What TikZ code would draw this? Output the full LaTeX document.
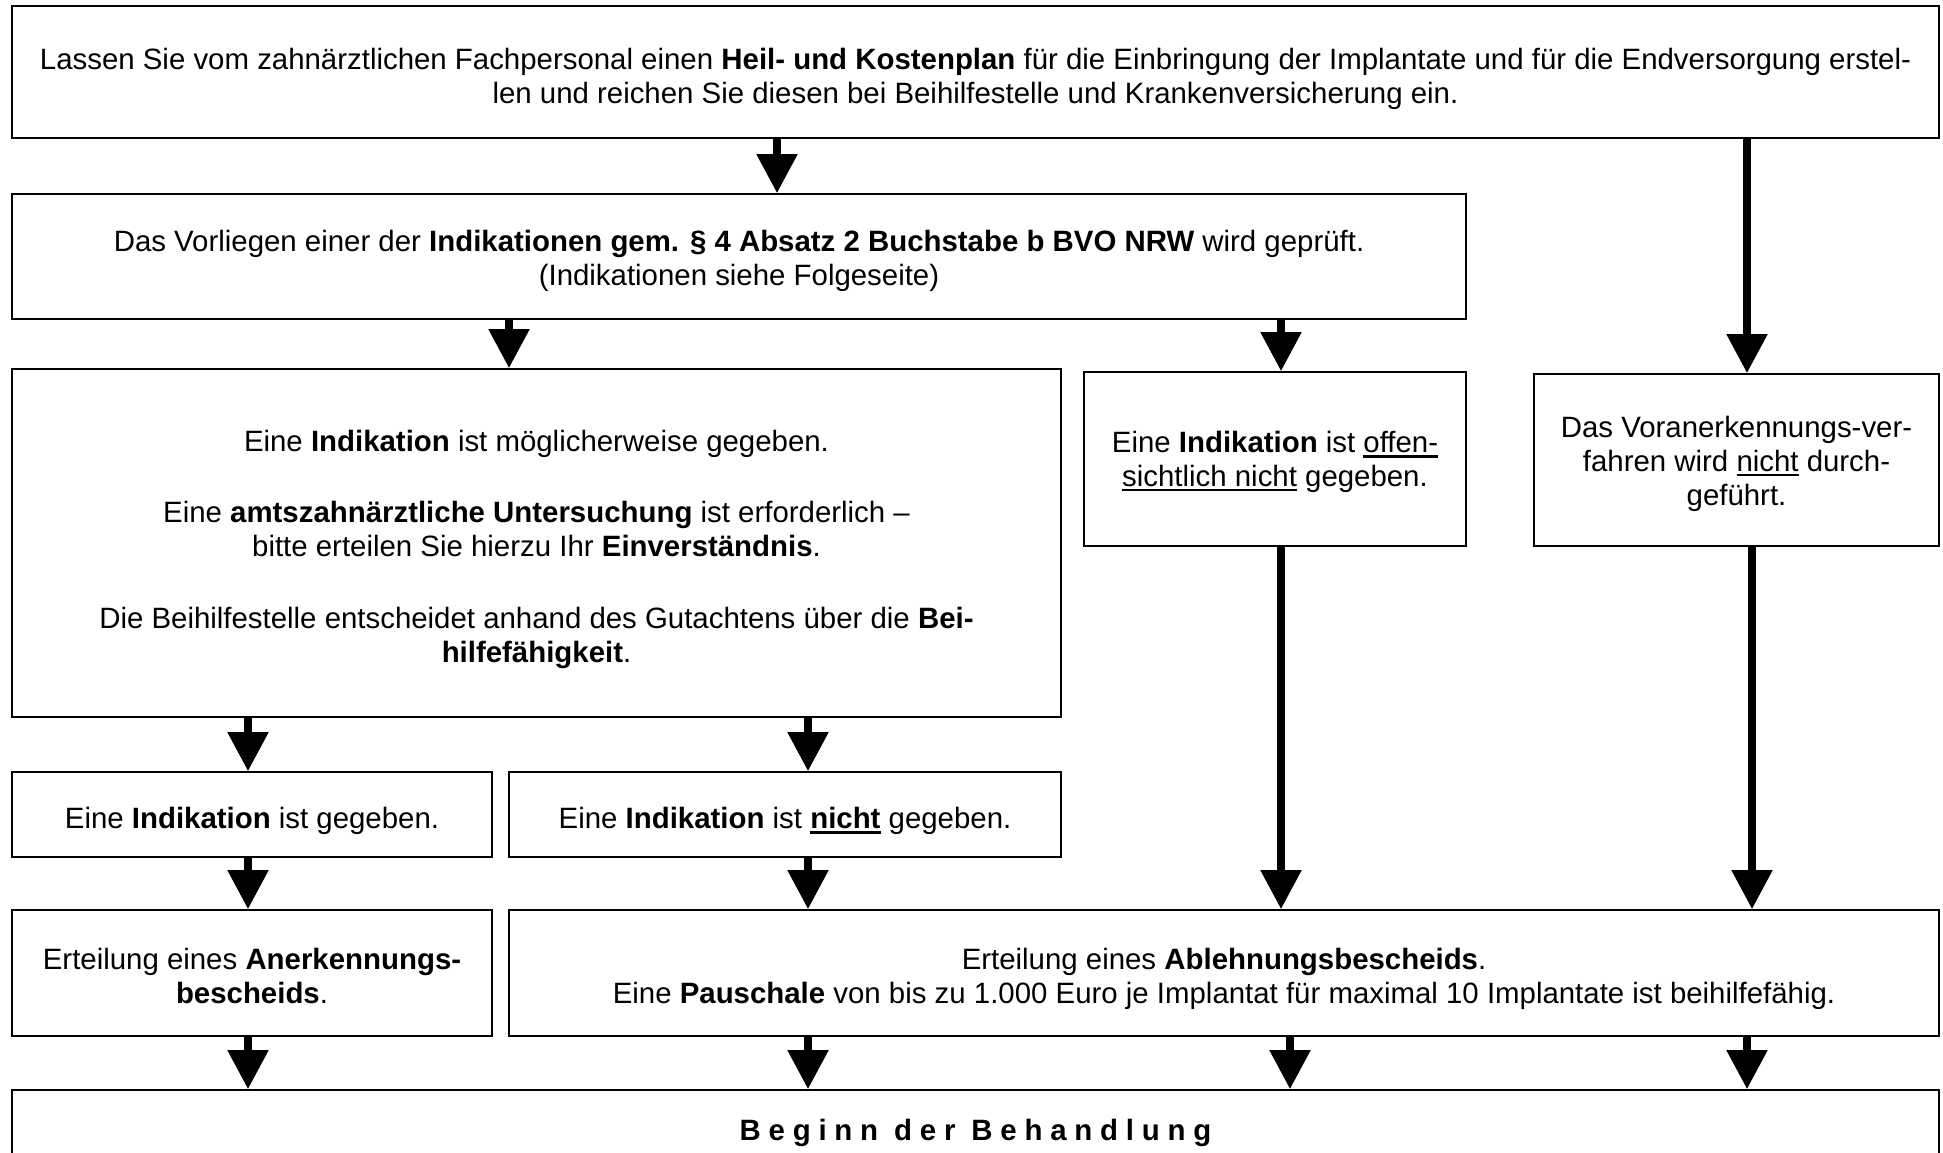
\documentclass[tikz,border=0pt]{standalone}
\usepackage{fontspec}
\setmainfont{Liberation Sans}
\usetikzlibrary{arrows.meta}
\newcommand{\unter}[1]{\leavevmode\setbox0=\hbox{#1}\rlap{\rule[-2.6pt]{\wd0}{1.3pt}}\box0\relax}
\newcommand{\auf}[1]{\rule{0pt}{#1pt}}
\tikzset{
	box/.style={draw,line width=0.8pt,align=center,inner sep=0pt,font=\fontsize{14.7}{16.9}\selectfont},
	flow/.style={-{Triangle[width=19.5pt,length=19.5pt]},line width=4pt}
}
\begin{document}
\begin{tikzpicture}[line join=miter,x=0.5pt,y=-0.5pt]
	\clip(0,0) rectangle (1943,1152);
	\node[box,minimum width=963.5pt,minimum height=66pt] (top) at (975.5,72) {\auf{17.3}Lassen Sie vom zahnärztlichen Fachpersonal einen \textbf{Heil- und Kostenplan} für die Einbringung der Implantate und für die Endversorgung erstel-\\len und reichen Sie diesen bei Beihilfestelle und Krankenversicherung ein.};
	\node[box,minimum width=727pt,minimum height=62.5pt] (pruef) at (739,256.5) {\auf{15.3}Das Vorliegen einer der \textbf{Indikationen gem. § 4 Absatz 2 Buchstabe b BVO NRW} wird geprüft.\\(Indikationen siehe Folgeseite)};
	\node[box,minimum width=524.5pt,minimum height=174pt] (moegl) at (536.5,543) {\auf{16.9}Eine \textbf{Indikation} ist möglicherweise gegeben.\\[19pt]Eine \textbf{amtszahnärztliche Untersuchung} ist erforderlich --\\bitte erteilen Sie hierzu Ihr \textbf{Einverständnis}.\\[19pt]Die Beihilfestelle entscheidet anhand des Gutachtens über die \textbf{Bei-}\\\textbf{hilfefähigkeit}.};
	\node[box,minimum width=191pt,minimum height=87pt] (offen) at (1275,459) {\auf{13.3}Eine \textbf{Indikation} ist \unter{offen-}\\\unter{sichtlich nicht} gegeben.};
	\node[box,minimum width=202.5pt,minimum height=86pt] (vorab) at (1736.5,460) {\auf{14.3}Das Voranerkennungs-ver-\\fahren wird \unter{nicht} durch-\\geführt.};
	\node[box,minimum width=240pt,minimum height=42.5pt] (ja) at (252,814.5) {\auf{17.3}Eine \textbf{Indikation} ist gegeben.};
	\node[box,minimum width=276pt,minimum height=42.5pt] (nein) at (785,814.5) {\auf{17.3}Eine \textbf{Indikation} ist \unter{\textbf{nicht}} gegeben.};
	\node[box,minimum width=240pt,minimum height=63pt] (anerk) at (252,973) {\auf{13.7}Erteilung eines \textbf{Anerkennungs-}\\\textbf{bescheids}.};
	\node[box,minimum width=715pt,minimum height=63pt] (ablehn) at (1224,973) {\auf{16.3}Erteilung eines \textbf{Ablehnungsbescheids}.\\Eine \textbf{Pauschale} von bis zu 1.000 Euro je Implantat für maximal 10 Implantate ist beihilfefähig.};
	\node[box,minimum width=963.5pt,minimum height=38pt] (beginn) at (975.5,1128) {\auf{15.5}\bfseries\addfontfeature{LetterSpace=26.5}Beginn der Behandlung};
	% Spalten der Pfeile
	\coordinate (c1) at (777,0);
	\coordinate (c2) at (509,0);
	\coordinate (c3) at (1281,0);
	\coordinate (c4) at (1747,0);
	\coordinate (c5) at (248,0);
	\coordinate (c6) at (808,0);
	\coordinate (c7) at (1290,0);
	\coordinate (c8) at (1752,0);
	\draw [flow] (top.south -| c1) -- (pruef.north -| c1);
	\draw [flow] (top.south -| c4) -- (vorab.north -| c4);
	\draw [flow] (pruef.south -| c2) -- (moegl.north -| c2);
	\draw [flow] (pruef.south -| c3) -- (offen.north -| c3);
	\draw [flow] (moegl.south -| c5) -- (ja.north -| c5);
	\draw [flow] (moegl.south -| c6) -- (nein.north -| c6);
	\draw [flow] (offen.south -| c3) -- (ablehn.north -| c3);
	\draw [flow] (vorab.south -| c8) -- (ablehn.north -| c8);
	\draw [flow] (ja.south -| c5) -- (anerk.north -| c5);
	\draw [flow] (nein.south -| c6) -- (ablehn.north -| c6);
	\draw [flow] (anerk.south -| c5) -- (beginn.north -| c5);
	\draw [flow] (ablehn.south -| c6) -- (beginn.north -| c6);
	\draw [flow] (ablehn.south -| c7) -- (beginn.north -| c7);
	\draw [flow] (ablehn.south -| c4) -- (beginn.north -| c4);
\end{tikzpicture}
\end{document}
